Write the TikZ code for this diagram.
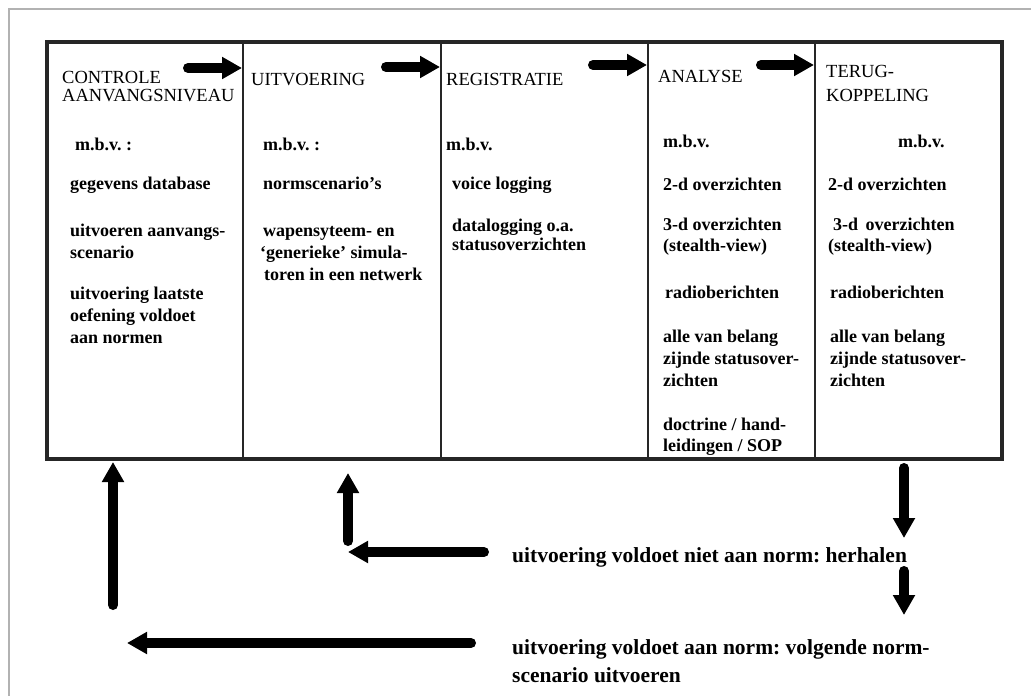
\documentclass[tikz,border=0pt]{standalone}
\usepackage{fontspec}
\setmainfont{Liberation Serif}
\usetikzlibrary{arrows.meta}
\frenchspacing
\newcommand\Ln[4]{\node[bt] (#1) at (#2,#3) {#4};}
\newcommand\Hd[4]{\node[ht] (#1) at (#2,#3) {#4};}
\newcommand\Bt[4]{\node[bot] (#1) at (#2,#3) {#4};}
\begin{document}
\begin{tikzpicture}[x=1pt,y=-1pt,
  bt/.style={anchor=base west,inner sep=0pt,font=\fontsize{18}{22}\selectfont\bfseries},
  ht/.style={anchor=base west,inner sep=0pt,font=\fontsize{18.5}{22}\selectfont},
  bot/.style={anchor=base west,inner sep=0pt,font=\fontsize{21.5}{24}\selectfont\bfseries},
  fat/.style={line width=10pt,line cap=round,-{Triangle[length=20pt,width=21pt]}},
  frame/.style={draw=black!85,line width=3.2pt},
  col/.style={draw=black!85,line width=2.6pt}]
\fill[white] (0,0) rectangle (1031,696);
\useasboundingbox (0,0) rectangle (1031,696);
\draw[black!30,line width=1.2pt] (9,696) -- (9,9) -- (1031,9);
% main box and columns
\draw[frame] (47,42) rectangle (1002,459);
\draw[col] (243,42) -- (243,459);
\draw[col] (441,42) -- (441,459);
\draw[col] (648,42) -- (648,459);
\draw[col] (815,42) -- (815,459);
% header arrows
\coordinate (a1s) at (188,68); \coordinate (a1e) at (242,68);
\coordinate (a2s) at (386,67); \coordinate (a2e) at (440,67);
\coordinate (a3s) at (593,65); \coordinate (a3e) at (647,65);
\coordinate (a4s) at (761,65); \coordinate (a4e) at (814,65);
\draw[fat] (a1s) -- (a1e);
\draw[fat] (a2s) -- (a2e);
\draw[fat] (a3s) -- (a3e);
\draw[fat] (a4s) -- (a4e);
% headers
\Hd{h1a}{62}{83}{CONTROLE}
\Hd{h1b}{62}{101}{AANVANGSNIVEAU}
\Hd{h2}{251}{85}{UITVOERING}
\Hd{h3}{446}{85}{REGISTRATIE}
\Hd{h4}{658}{82}{ANALYSE}
\Hd{h5a}{826}{77}{TERUG-}
\Hd{h5b}{826}{101}{KOPPELING}
% column 1
\Ln{c1a}{75}{150}{m.b.v. :}
\Ln{c1b}{70}{189}{gegevens database}
\Ln{c1c}{70}{236}{uitvoeren aanvangs-}
\Ln{c1d}{70}{258}{scenario}
\Ln{c1e}{70}{299}{uitvoering laatste}
\Ln{c1f}{70}{321}{oefening voldoet}
\Ln{c1g}{70}{343}{aan normen}
% column 2
\Ln{c2a}{263}{150}{m.b.v. :}
\Ln{c2b}{263}{189}{normscenario’s}
\Ln{c2c}{263}{236}{wapensyteem- en}
\Ln{c2d}{260}{258}{‘generieke’ simula-}
\Ln{c2e}{264}{280}{toren in een netwerk}
% column 3
\Ln{c3a}{446}{150}{m.b.v.}
\Ln{c3b}{452}{189}{voice logging}
\Ln{c3c}{452}{231}{datalogging o.a.}
\Ln{c3d}{452}{250}{statusoverzichten}
% column 4
\Ln{c4a}{663}{147}{m.b.v.}
\Ln{c4b}{663}{190}{2-d overzichten}
\Ln{c4c}{663}{230}{3-d overzichten}
\Ln{c4d}{663}{251}{(stealth-view)}
\Ln{c4e}{665}{298}{radioberichten}
\Ln{c4f}{663}{342}{alle van belang}
\Ln{c4g}{663}{364}{zijnde statusover-}
\Ln{c4h}{663}{386}{zichten}
\Ln{c4i}{663}{430}{doctrine / hand-}
\Ln{c4j}{663}{451}{leidingen / SOP}
% column 5
\Ln{c5a}{898}{147}{m.b.v.}
\Ln{c5b}{828}{190}{2-d overzichten}
\Ln{c5c}{833}{230}{3-d\, overzichten}
\Ln{c5d}{828}{251}{(stealth-view)}
\Ln{c5e}{830}{298}{radioberichten}
\Ln{c5f}{830}{342}{alle van belang}
\Ln{c5g}{830}{364}{zijnde statusover-}
\Ln{c5h}{830}{386}{zichten}
% bottom texts
\Bt{t1}{512}{562}{uitvoering voldoet niet aan norm: herhalen}
\Bt{t2}{512}{654}{uitvoering voldoet aan norm: volgende norm-}
\Bt{t3}{512}{682}{scenario uitvoeren}
% bottom arrows
\coordinate (u1s) at (113,605); \coordinate (u1e) at (113,462);
\coordinate (u2s) at (348,541); \coordinate (u2e) at (348,473);
\coordinate (l1s) at (484,552); \coordinate (l1e) at (348,552);
\coordinate (l2s) at (471,643); \coordinate (l2e) at (127,643);
\coordinate (d1s) at (904,468); \coordinate (d1e) at (904,538);
\coordinate (d2s) at (904,571); \coordinate (d2e) at (904,615);
\draw[fat] (u1s) -- (u1e);
\draw[fat] (u2s) -- (u2e);
\draw[fat] (l1s) -- (l1e);
\draw[fat] (l2s) -- (l2e);
\draw[fat] (d1s) -- (d1e);
\draw[fat] (d2s) -- (d2e);
\end{tikzpicture}
\end{document}
